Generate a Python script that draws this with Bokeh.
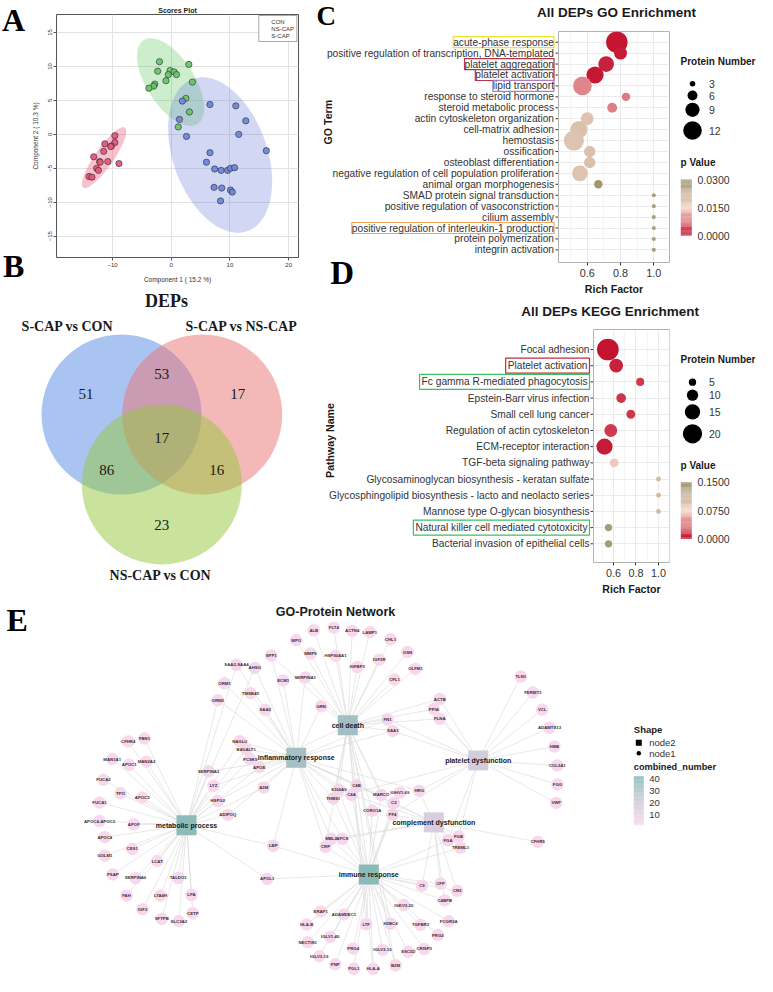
import numpy as np
from bokeh.plotting import figure
from bokeh.models import (Range1d, FixedTicker, LinearColorMapper,
                          ColumnDataSource, Legend, LegendItem)
from bokeh.layouts import row, column
from bokeh.embed import file_html
from bokeh.resources import INLINE
from bokeh.core.properties import value
from bokeh.transform import transform

SANS = "Liberation Sans"
SERIF = "Liberation Serif"
INK = "#1a1a1a"

# ======================= DATA =======================
# --- A: scores plot ---
con_x = [-9.6, -9.6, -11.3, -10.2, -10.3, -11.5, -13.2, -12.2, -12.1, -10.8, -8.9, -12.7, -12.4, -14.0, -13.5]
con_y = [-0.2, -1.2, -1.4, -1.7, -1.8, -2.5, -3.3, -4.0, -4.1, -4.0, -4.3, -5.0, -5.3, -6.2, -6.3]
nscap_x = [-2.0, -2.3, -0.2, 0.5, -0.5, 0.9, 3.0, 3.6, -0.9, -2.8, -3.0, -3.8, 2.5, 3.1, 1.2]
nscap_y = [10.7, 9.3, 9.4, 9.2, 8.8, 8.8, 10.3, 7.7, 7.9, 7.4, 7.1, 6.8, 5.3, 3.3, 1.1]
scap_x = [1.9, 1.4, 2.6, 6.6, 11.0, 12.7, 11.5, 16.2, 6.6, 6.0, 7.4, 8.5, 9.6, 10.1, 10.8, 7.3, 8.6, 10.1, 10.4, 8.4]
scap_y = [4.9, 2.2, -0.3, 4.4, 4.2, 2.0, 0.0, -2.4, -2.7, -4.1, -5.1, -5.3, -5.3, -5.0, -4.9, -7.8, -7.9, -8.2, -8.5, -9.8]
group_names = ["CON", "NS-CAP", "S-CAP"]
# confidence ellipses: centre and the two semi-axis vectors (data units)
ell_cx = [-11.43, -0.11, 8.33]
ell_cy = [-3.43, 7.70, -3.04]
ell_ax = [3.55, 4.60, 4.68]
ell_ay = [4.41, -6.17, -11.20]
ell_bx = [1.29, -3.40, -7.52]
ell_by = [-0.79, -1.92, -2.38]
scores_x_ticks = [-10, 0, 10, 20]
scores_y_ticks = [-15, -10, -5, 0, 5, 10, 15]

# --- B: Venn ---
venn_sets = ["S-CAP vs CON", "S-CAP vs NS-CAP", "NS-CAP vs CON"]
venn_only = [51, 17, 23]
venn_pairs = [53, 86, 16]      # (set0,set1), (set0,set2), (set1,set2)
venn_all = 17

# --- C: GO enrichment ---
go_terms = ["acute-phase response",
            "positive regulation of transcription, DNA-templated",
            "platelet aggregation", "platelet activation", "lipid transport",
            "response to steroid hormone", "steroid metabolic process",
            "actin cytoskeleton organization", "cell-matrix adhesion", "hemostasis",
            "ossification", "osteoblast differentiation",
            "negative regulation of cell population proliferation",
            "animal organ morphogenesis", "SMAD protein signal transduction",
            "positive regulation of vasoconstriction", "cilium assembly",
            "positive regulation of interleukin-1 production",
            "protein polymerization", "integrin activation"]
go_rich = [0.778, 0.80, 0.714, 0.647, 0.571, 0.833, 0.75, 0.60, 0.55, 0.52,
           0.615, 0.615, 0.556, 0.667, 1.0, 1.0, 1.0, 1.0, 1.0, 1.0]
go_count = [14, 8, 10, 11, 12, 5, 6, 8, 11, 13, 7, 7, 10, 5, 2, 2, 2, 2, 2, 2]
go_p = [0.0003, 0.0008, 0.0012, 0.0004, 0.009, 0.008, 0.0085, 0.019, 0.0195, 0.019,
        0.0195, 0.0195, 0.019, 0.030, 0.028, 0.028, 0.028, 0.028, 0.028, 0.028]
go_size_legend = [3, 6, 9, 12]
go_p_ticks = [0.03, 0.015, 0.0]
go_p_tick_labels = ["0.0300", "0.0150", "0.0000"]

# --- D: KEGG enrichment ---
kegg_terms = ["Focal adhesion", "Platelet activation", "Fc gamma R-mediated phagocytosis",
              "Epstein-Barr virus infection", "Small cell lung cancer",
              "Regulation of actin cytoskeleton", "ECM-receptor interaction",
              "TGF-beta signaling pathway",
              "Glycosaminoglycan biosynthesis - keratan sulfate",
              "Glycosphingolipid biosynthesis - lacto and neolacto series",
              "Mannose type O-glycan biosynthesis",
              "Natural killer cell mediated cytotoxicity",
              "Bacterial invasion of epithelial cells"]
kegg_rich = [0.55, 0.624, 0.837, 0.668, 0.754, 0.576, 0.52, 0.606, 1.0, 1.0, 1.0, 0.556, 0.556]
kegg_count = [23, 13, 6, 8, 7, 12, 16, 7, 2, 2, 2, 5, 5]
kegg_p = [0.0003, 0.006, 0.016, 0.014, 0.015, 0.016, 0.004, 0.07, 0.105, 0.105, 0.105, 0.145, 0.145]
kegg_size_legend = [5, 10, 15, 20]
kegg_p_ticks = [0.15, 0.075, 0.0]
kegg_p_tick_labels = ["0.1500", "0.0750", "0.0000"]

rich_ticks = [0.6, 0.8, 1.0]
rich_tick_labels = ["0.6", "0.8", "1.0"]
rich_minor = [0.5, 0.7, 0.9, 1.1]

# --- E: GO-protein network ---
go_nodes = ["cell death", "inflammatory response", "metabolic process",
            "immune response", "platelet dysfunction", "complement dysfunction"]
go_node_x = [347.3, 295.7, 186.0, 368.3, 477.7, 433.3]
go_node_y = [730.0, 764.0, 834.3, 885.7, 766.7, 831.3]

prot_names = ["MPO", "ALB", "FLT4", "ACTN4", "LAMP1", "CHL1", "GSN", "OLFM1", "CFL1", "IGF2R",
              "IGFBP3", "HSP90AA1", "MMP9", "SPP1", "SAA2-SAA4", "AHSG", "ORM1", "ORM2", "TMSB4X", "ECM1",
              "SERPINA1", "SAA2", "GRN", "FN1", "SAA1", "ACTB", "PPIA", "FLNA", "NAGLU", "B4GALT1",
              "PCSK9", "APOE", "A2M", "SERPINA3", "LYZ", "HSPG2", "ADIPOQ", "S100A9", "THBS1", "C4B",
              "C4A", "MARCO", "IGHV1-69", "C2", "HRG", "CORO1A", "PF4",
              "CFHR4", "FBN1", "MAN1A1", "APOC1", "MAN2A2", "FUCA2", "TPI1", "APOC3", "FUCA1", "APOC4-APOC2",
              "APOF", "APOC4", "CES1", "GOLM1", "LCAT", "PSAP", "SERPINA6", "TALDO1", "FAH", "LTA4H",
              "LPA", "IGF2", "SFTPB", "SLC3A2", "CETP", "LBP", "APOL1",
              "MBL2", "APCS", "CRP", "FGA", "FGB", "TREML1", "C9", "CFP", "CR2", "C4BPB",
              "IGKV3-20", "ERAP1", "ADAMDEC1", "HLA-B", "LTF", "H2BC4", "TGFBR3", "FCGR3A", "PRG2", "NECTIN1",
              "IGLV1-40", "PRG4", "IGLV3-10", "SSC5D", "CRISP3", "IGLV3-19", "PNP", "PGL1", "HLA-A", "B2M",
              "TLN1", "FERMT3", "VCL", "ADAMTS13", "HBB", "COL3A1", "FGG", "VWF", "CFHR5"]
prot_x = [295.7, 313.3, 333.3, 351.7, 369.3, 390.0, 407.0, 415.0, 394.0, 378.7,
          356.7, 335.0, 310.0, 270.7, 236.0, 254.3, 224.0, 217.3, 250.0, 282.7,
          304.7, 264.7, 320.7, 387.0, 392.3, 439.3, 433.3, 439.3, 239.3, 245.7,
          249.7, 258.7, 263.3, 208.0, 213.0, 217.3, 227.3, 338.3, 332.7, 356.0,
          351.0, 380.7, 399.3, 393.3, 418.7, 371.7, 392.0,
          127.7, 144.0, 111.7, 128.7, 146.0, 103.0, 120.0, 141.7, 99.0, 99.0,
          133.3, 104.3, 131.7, 104.3, 156.7, 112.3, 135.0, 177.7, 126.0, 160.0,
          191.0, 142.0, 161.3, 178.3, 192.3, 272.7, 266.7,
          330.5, 341.8, 325.0, 447.5, 458.0, 460.0, 421.5, 440.0, 456.7, 444.2,
          403.3, 320.2, 343.5, 306.2, 365.7, 390.0, 420.0, 448.2, 437.3, 307.2,
          329.7, 352.7, 382.0, 407.7, 423.7, 318.7, 334.7, 353.3, 372.7, 395.0,
          520.3, 532.3, 541.7, 549.0, 554.0, 556.7, 557.0, 555.7, 537.3]
prot_y = [641.3, 631.0, 628.3, 631.7, 633.0, 640.3, 653.7, 671.3, 682.3, 661.7,
          669.3, 657.7, 655.3, 657.3, 667.0, 670.3, 686.3, 704.0, 696.7, 683.3,
          680.3, 714.0, 710.3, 724.0, 736.0, 702.7, 713.2, 723.3, 746.7, 755.0,
          765.3, 773.7, 795.0, 778.0, 793.3, 809.0, 823.5, 797.3, 806.3, 793.0,
          802.7, 802.7, 800.3, 811.0, 798.3, 819.3, 823.3,
          747.0, 744.0, 765.3, 771.3, 768.0, 787.0, 801.0, 805.5, 810.7, 830.0,
          833.3, 846.7, 859.0, 866.0, 871.7, 885.7, 889.3, 889.3, 907.7, 907.7,
          907.0, 922.0, 932.0, 934.3, 926.0, 855.7, 890.3,
          848.5, 848.5, 856.7, 850.0, 846.0, 857.8, 897.3, 895.2, 902.7, 912.7,
          917.5, 924.2, 927.3, 937.8, 937.5, 937.0, 938.2, 934.3, 948.8, 956.2,
          950.8, 963.0, 964.3, 966.3, 963.3, 970.8, 979.3, 984.0, 984.0, 980.3,
          679.3, 696.0, 714.0, 732.7, 752.3, 772.0, 791.7, 811.0, 851.7]

go_edges = {
    "metabolic process": ["CFHR4", "FBN1", "MAN1A1", "APOC1", "MAN2A2", "FUCA2", "TPI1", "APOC3", "FUCA1",
                          "APOC4-APOC2", "APOF", "APOC4", "CES1", "GOLM1", "LCAT", "PSAP", "SERPINA6",
                          "TALDO1", "FAH", "LTA4H", "LPA", "IGF2", "SFTPB", "SLC3A2", "CETP", "SERPINA3",
                          "LYZ", "HSPG2", "ADIPOQ", "APOE", "PCSK9", "NAGLU", "B4GALT1", "A2M", "LBP",
                          "APOL1", "ORM2", "AHSG", "SAA2-SAA4"],
    "inflammatory response": ["SAA2-SAA4", "AHSG", "ORM1", "ORM2", "TMSB4X", "SAA2", "SPP1", "ECM1",
                              "SERPINA1", "GRN", "NAGLU", "B4GALT1", "PCSK9", "APOE", "A2M", "SERPINA3",
                              "LYZ", "ADIPOQ", "S100A9", "THBS1", "C4A", "C4B", "CRP", "MBL2", "APCS",
                              "LBP", "SAA1", "FN1", "HRG", "C2", "MARCO", "HSPG2"],
    "cell death": ["MPO", "ALB", "FLT4", "ACTN4", "LAMP1", "CHL1", "GSN", "OLFM1", "CFL1", "IGF2R",
                   "IGFBP3", "HSP90AA1", "MMP9", "SPP1", "SERPINA1", "GRN", "FN1", "SAA1", "ACTB", "PPIA",
                   "FLNA", "S100A9", "THBS1", "CORO1A", "PF4", "C4B", "MARCO", "APOE", "CRP", "LTF",
                   "H2BC4", "B2M", "HLA-A"],
    "platelet dysfunction": ["TLN1", "FERMT3", "VCL", "ADAMTS13", "HBB", "COL3A1", "FGG", "VWF", "ACTB",
                             "PPIA", "FLNA", "FN1", "SAA1", "HRG", "PF4", "FGA", "FGB", "THBS1"],
    "complement dysfunction": ["CFHR5", "FGA", "FGB", "TREML1", "C9", "CFP", "CR2", "C4BPB", "C2", "PF4",
                               "HRG", "C4A", "C4B", "MBL2", "APCS"],
    "immune response": ["ERAP1", "ADAMDEC1", "HLA-B", "LTF", "IGLV1-40", "NECTIN1", "PRG4", "IGLV3-19",
                        "PNP", "PGL1", "HLA-A", "B2M", "IGLV3-10", "SSC5D", "CRISP3", "PRG2", "H2BC4",
                        "TGFBR3", "FCGR3A", "IGKV3-20", "C4BPB", "CR2", "CFP", "C9", "APOL1", "LBP", "CRP",
                        "MBL2", "APCS", "CORO1A", "MARCO", "IGHV1-69", "C2", "PF4", "S100A9", "THBS1",
                        "C4A", "C4B", "TREML1", "FGA"],
}
net_cb_ticks = [40, 30, 20, 10]
shape_legend = ["node2", "node1"]


# ======================= HELPERS =======================
def ramp(stops, n=256):
    rgb = [tuple(int(s[i:i + 2], 16) for i in (1, 3, 5)) for s in stops]
    out = []
    for k in range(n):
        t = k / (n - 1) * (len(rgb) - 1)
        i = min(int(t), len(rgb) - 2)
        f = t - i
        c = [round(rgb[i][j] + (rgb[i + 1][j] - rgb[i][j]) * f) for j in range(3)]
        out.append("#%02x%02x%02x" % tuple(c))
    return out


def txt(p, xs, ys, texts, size, style="normal", font=SANS, color=INK, align="left",
        baseline="middle", angle=0.0, **kw):
    return p.text(x=list(xs), y=list(ys), text=list(texts), text_font=value(font),
                  text_font_size=value(size), text_font_style=style, text_color=color,
                  text_align=align, text_baseline=baseline, angle=angle, **kw)


def letter(p, x, y, ch, size="32px"):
    txt(p, [x], [y], [ch], size, style="bold", font=SERIF, color="#000000")


def blank(w, h, xr, yr):
    p = figure(width=w, height=h, x_range=Range1d(*xr), y_range=Range1d(*yr),
               output_backend="svg", toolbar_location=None, frame_align=False,
               x_axis_location=None, y_axis_location=None, min_border=0)
    p.grid.visible = False
    p.outline_line_color = None
    p.background_fill_color = "white"
    p.border_fill_color = "white"
    return p


# ======================= A: Scores plot =======================
pLetAB = blank(28, 285, (0, 28), (285, 0))
letter(pLetAB, 1.5, 19.5, "A")
letter(pLetAB, 2.5, 265, "B")

pA = figure(width=272, height=285, x_range=Range1d(-19.54, 21.68), y_range=Range1d(-18.13, 17.65),
            output_backend="svg", toolbar_location=None, frame_align=False,
            min_border_left=26, min_border_right=2, min_border_top=14, min_border_bottom=27)
pA.title.text = "Scores Plot"
pA.title.align = "center"
pA.title.text_font = SANS
pA.title.text_font_size = "7px"
pA.title.text_font_style = "bold"
pA.title.text_color = INK
pA.title.standoff = 2
pA.xaxis.ticker = FixedTicker(ticks=scores_x_ticks)
pA.yaxis.ticker = FixedTicker(ticks=scores_y_ticks)
for ax in pA.axis:
    ax.axis_line_color = None
    ax.major_tick_line_color = "#555555"
    ax.major_tick_out = 3
    ax.major_tick_in = 0
    ax.minor_tick_line_color = None
    ax.major_label_text_font = SANS
    ax.major_label_text_font_size = "6px"
    ax.major_label_text_color = "#333333"
    ax.axis_label_text_font = SANS
    ax.axis_label_text_font_size = "6.5px"
    ax.axis_label_text_font_style = "normal"
    ax.axis_label_text_color = "#333333"
pA.xaxis.major_label_standoff = 2
pA.xaxis.axis_label_standoff = 6
pA.yaxis.major_label_standoff = 1
pA.yaxis.axis_label_standoff = 7
pA.yaxis.major_label_orientation = "vertical"
pA.xaxis.axis_label = "Component 1 ( 15.2 %)"
pA.yaxis.axis_label = "Component 2 ( 10.3 %)"
pA.grid.grid_line_color = "#e2e2e2"
pA.outline_line_color = "#555555"
pA.outline_line_width = 1

t = np.linspace(0, 2 * np.pi, 120)
ell_fill = ["#ee5a80", "#66cc66", "#6a7fdc"]
ell_alpha = [0.38, 0.33, 0.30]
for i in range(3):
    ex = ell_cx[i] + ell_ax[i] * np.cos(t) + ell_bx[i] * np.sin(t)
    ey = ell_cy[i] + ell_ay[i] * np.cos(t) + ell_by[i] * np.sin(t)
    pA.patch(ex, ey, fill_color=ell_fill[i], fill_alpha=ell_alpha[i], line_color=None)

pt_fill = ["#e4577a", "#69c46b", "#6f86da"]
for xs, ys, c in zip([con_x, nscap_x, scap_x], [con_y, nscap_y, scap_y], pt_fill):
    pA.scatter(xs, ys, size=6.3, fill_color=c, line_color="#2a2a2a", line_width=0.6, fill_alpha=0.95)

leg_markers = ["square", "circle", "circle"]
leg_r = [pA.scatter(x=[], y=[], marker=m, size=4, fill_color=None, line_color=c, line_width=0.9)
         for m, c in zip(leg_markers, pt_fill)]
legA = Legend(items=[LegendItem(label=g, renderers=[r]) for g, r in zip(group_names, leg_r)],
              location="top_right", label_text_font=SANS, label_text_font_size="6px",
              label_text_color="#333333", label_height=6, glyph_height=7, glyph_width=7,
              spacing=0, padding=2, margin=1, label_standoff=3,
              border_line_color="#555555", border_line_width=0.6, background_fill_alpha=1)
pA.add_layout(legA)

# ======================= B: Venn =======================
pB = blank(300, 315, (0, 300), (600, 285))
VCX, VCY, VSIDE, VR = 161.35, 437.3, 80.7, 80.0
set_ang = np.radians([210, 330, 90])
pair_ang = np.radians([270, 150, 30])
dist_c = VSIDE / np.sqrt(3)
cx = VCX + dist_c * np.cos(set_ang)
cy = VCY + dist_c * np.sin(set_ang)
venn_cols = ["#5589e5", "#e97171", "#93c739"]
for i in range(3):
    pB.circle(x=[cx[i]], y=[cy[i]], radius=VR, fill_color=venn_cols[i], fill_alpha=0.5, line_color=None)
txt(pB, VCX + 87.5 * np.cos(set_ang), VCY + 87.5 * np.sin(set_ang), [str(v) for v in venn_only],
    "15px", font=SERIF, align="center")
txt(pB, VCX + 63.5 * np.cos(pair_ang), VCY + 63.5 * np.sin(pair_ang), [str(v) for v in venn_pairs],
    "15px", font=SERIF, align="center")
txt(pB, [VCX], [VCY], [str(venn_all)], "15px", font=SERIF, align="center")
txt(pB, [166], [300], ["DEPs"], "18px", style="bold", font=SERIF, align="center")
txt(pB, [67, 241, 160], [326, 326, 575], venn_sets, "14px", style="bold", font=SERIF, align="center")

# ======================= C / D: enrichment dot plots =======================
go_pal = ramp(["#c4122f", "#f3d3c7", "#a09873"])
mapC = LinearColorMapper(palette=go_pal, low=0.0, high=0.03)
mapD = LinearColorMapper(palette=go_pal, low=0.0, high=0.15)


def size_go(n):
    return 1.45 * np.asarray(n, dtype=float) + 1.2


def size_kegg(n):
    return 0.8 * np.asarray(n, dtype=float) + 3.3


def dot_panel(terms, rich, count, pval, sizef, mapper, xr, ytop, ppu, frame_h, H, lab_w, plot_w,
              mb_bottom, boxed, pad, text_right, ref_x0):
    n = len(terms)
    pos = [n - i for i in range(n)]
    ybot = ytop - frame_h / ppu
    # label column, same units-per-pixel as the plot frame, same top edge
    lab = blank(lab_w, H, (ref_x0, ref_x0 + lab_w), (ytop - H / ppu, ytop))
    plain = [i for i in range(n) if terms[i] not in boxed]
    txt(lab, [text_right] * len(plain), [pos[i] for i in plain], [terms[i] for i in plain],
        "10.2px", color="#333333", align="right")
    for i in range(n):
        if terms[i] in boxed:
            txt(lab, [text_right], [pos[i]], [terms[i]], "10.2px", color="#333333", align="right",
                border_line_color=boxed[terms[i]], border_line_width=1.2, padding=pad)
    lab.segment(x0=[ref_x0 + lab_w - 3] * n, y0=pos, x1=[ref_x0 + lab_w] * n, y1=pos,
                line_color="#333333", line_width=1)
    # plot
    p = figure(width=plot_w, height=H, x_range=Range1d(*xr), y_range=Range1d(ybot, ytop),
               output_backend="svg", toolbar_location=None, y_axis_location=None, frame_align=False,
               min_border_left=0, min_border_right=8, min_border_top=0, min_border_bottom=mb_bottom)
    src = ColumnDataSource(dict(x=rich, y=pos, s=list(sizef(count)), p=pval))
    p.scatter("x", "y", size="s", source=src, fill_color=transform("p", mapper), line_color=None)
    p.ygrid.ticker = FixedTicker(ticks=pos)
    p.xaxis.ticker = FixedTicker(ticks=rich_ticks, minor_ticks=rich_minor)
    p.xaxis.major_label_overrides = dict(zip(rich_ticks, rich_tick_labels))
    ax = p.xaxis[0]
    ax.axis_line_color = None
    ax.major_tick_line_color = "#333333"
    ax.major_tick_out = 3
    ax.major_tick_in = 0
    ax.minor_tick_line_color = None
    ax.major_label_text_font = SANS
    ax.major_label_text_color = "#333333"
    ax.major_label_text_font_size = "10.8px"
    ax.major_label_standoff = 2
    ax.axis_label = "Rich Factor"
    ax.axis_label_text_font = SANS
    ax.axis_label_text_font_size = "10.6px"
    ax.axis_label_text_font_style = "bold"
    ax.axis_label_text_color = INK
    ax.axis_label_standoff = 3
    p.outline_line_color = "#b3b3b3"
    p.outline_line_width = 1
    p.xgrid.grid_line_color = "#ebebeb"
    p.xgrid.minor_grid_line_color = "#f5f5f5"
    p.ygrid.grid_line_color = "#ebebeb"
    return lab, p


def enrich_legend(H, yr, sizes, sizef, size_y, pn_y, pv_y, bar_top, bar_bot, mapper, ticks, tick_labels):
    p = blank(80, H, (689, 769), yr)
    txt(p, [692], [pn_y], ["Protein Number"], "10px", style="bold")
    p.scatter(x=[704] * len(sizes), y=size_y, size=list(sizef(sizes)), fill_color="black", line_color=None)
    txt(p, [720.5] * len(sizes), size_y, [str(s) for s in sizes], "10.5px", color="#333333")
    txt(p, [692], [pv_y], ["p Value"], "10px", style="bold")
    lo, hi = mapper.low, mapper.high
    vals = np.linspace(lo, hi, 61)
    yb = bar_bot + (vals - lo) / (hi - lo) * (bar_top - bar_bot)
    mid = (vals[:-1] + vals[1:]) / 2
    cs = ColumnDataSource(dict(b=yb[:-1], t=yb[1:], v=mid))
    p.quad(left=692.3, right=703.3, bottom="b", top="t", source=cs,
           fill_color=transform("v", mapper), line_color=None)
    ty = [bar_bot + (v - lo) / (hi - lo) * (bar_top - bar_bot) for v in ticks]
    txt(p, [709] * len(ticks), ty, tick_labels, "10.5px", color="#333333")
    return p


# ---- C block (reference rows 0..298) ----
C_STRIP = 31
stripC = blank(457, C_STRIP, (312, 769), (C_STRIP, 0))
txt(stripC, [628], [12], ["All DEPs GO Enrichment"], "13.5px", style="bold", align="center")
letter(stripC, 328, 15.5, "C", "27px")

C_PPU = 10.93                       # pixels per category step
C_TOP_REF = C_STRIP                 # reference row of frame top
C_YTOP = len(go_terms) + (41.7 - C_TOP_REF) / C_PPU
C_H = 298 - C_STRIP
go_boxed = {"acute-phase response": "#eee02c", "platelet aggregation": "#b8324a",
            "platelet activation": "#b8324a", "lipid transport": "#b27ac4",
            "positive regulation of interleukin-1 production": "#f2a35a"}
labC, pC = dot_panel(go_terms, go_rich, go_count, go_p, size_go, mapC,
                     (0.4276, 1.0943), C_YTOP, C_PPU, C_H - 36, C_H, 258, 119, 36,
                     go_boxed, 0, 565.5, 312)


def c_units(ref_y):
    return C_YTOP - (ref_y - C_TOP_REF) / C_PPU


txt(labC, [339], [c_units(121.7)], ["GO Term"], "10.6px", style="bold", align="center", angle=np.pi / 2)
letter(labC, 341.7, c_units(272), "D", "33px")
pCl = enrich_legend(C_H, (298, C_STRIP), go_size_legend, size_go, [83.3, 95.0, 109.3, 130.0],
                    61, 162.3, 179, 235, mapC, go_p_ticks, go_p_tick_labels)

# ---- D block (reference rows 298..600) ----
stripD = blank(457, 31, (312, 769), (329, 298))
txt(stripD, [621.7], [311], ["All DEPs KEGG Enrichment"], "13.5px", style="bold", align="center")

D_PPU = 16.19
D_TOP_REF = 329
D_YTOP = len(kegg_terms) + (349 - D_TOP_REF) / D_PPU
kegg_boxed = {"Platelet activation": "#c8283c", "Fc gamma R-mediated phagocytosis": "#3cc060",
              "Natural killer cell mediated cytotoxicity": "#3cc060"}
labD, pD = dot_panel(kegg_terms, kegg_rich, kegg_count, kegg_p, size_kegg, mapD,
                     (0.4222, 1.0978), D_YTOP, D_PPU, 233, 271, 293, 84, 38,
                     kegg_boxed, 2, 601, 312)
txt(labD, [341.7], [D_YTOP - (440 - D_TOP_REF) / D_PPU], ["Pathway Name"], "10.6px", style="bold",
    align="center", angle=np.pi / 2)
pDl = enrich_legend(271, (600, 329), kegg_size_legend, size_kegg, [381.7, 394.7, 411.3, 433.3],
                    359, 465, 481.7, 538.3, mapD, kegg_p_ticks, kegg_p_tick_labels)

# ======================= E: network =======================
pE = blank(757, 376, (0, 757), (992, 600))
net_pal = ramp(["#f9d7ec", "#c9c9d8", "#83b9b4"])
mapE = LinearColorMapper(palette=net_pal, low=1.5, high=42.1)

pidx = {n: i for i, n in enumerate(prot_names)}
gidx = {n: i for i, n in enumerate(go_nodes)}
x0, y0, x1, y1 = [], [], [], []
deg_p = [0] * len(prot_names)
deg_g = [0] * len(go_nodes)
for g, plist in go_edges.items():
    for pr in plist:
        x0.append(go_node_x[gidx[g]])
        y0.append(go_node_y[gidx[g]])
        x1.append(prot_x[pidx[pr]])
        y1.append(prot_y[pidx[pr]])
        deg_p[pidx[pr]] += 1
        deg_g[gidx[g]] += 1
pE.segment(x0=x0, y0=y0, x1=x1, y1=y1, line_color="#d9d9d9", line_width=0.6)

psrc = ColumnDataSource(dict(x=prot_x, y=prot_y, n=prot_names, d=deg_p))
pE.scatter("x", "y", size=12.5, source=psrc, fill_color=transform("d", mapE), line_color=None)
pE.text("x", "y", "n", source=psrc, text_font=value(SANS), text_font_size=value("4.3px"),
        text_font_style="bold", text_color="#333333", text_align="center", text_baseline="middle")
gsrc = ColumnDataSource(dict(x=go_node_x, y=go_node_y, n=go_nodes, d=deg_g))
pE.scatter("x", "y", size=20, marker="square", source=gsrc, fill_color=transform("d", mapE), line_color=None)
pE.text("x", "y", "n", source=gsrc, text_font=value(SANS), text_font_size=value("7px"),
        text_font_style="bold", text_color=INK, text_align="center", text_baseline="middle")

txt(pE, [335], [612], ["GO-Protein Network"], "12.5px", style="bold", align="center")
letter(pE, 6, 620, "E")

# network legend
txt(pE, [633.3], [734], ["Shape"], "9.5px", style="bold")
pE.scatter(x=[638.3], y=[748.3], size=6, marker="square", fill_color="black", line_color=None)
pE.scatter(x=[638.3], y=[759.3], size=4.5, marker="circle", fill_color="black", line_color=None)
txt(pE, [648.7, 648.7], [748.3, 759.3], shape_legend, "9.5px", color="#333333")
txt(pE, [633.3], [773.7], ["combined_number"], "9.2px", style="bold")
cb_top, cb_bot = 783.3, 834.3
vals = np.linspace(mapE.low, mapE.high, 61)
yb = cb_bot - (vals - mapE.low) / (mapE.high - mapE.low) * (cb_bot - cb_top)
cbs = ColumnDataSource(dict(b=yb[:-1], t=yb[1:], v=(vals[:-1] + vals[1:]) / 2))
pE.quad(left=633.3, right=643.3, bottom="b", top="t", source=cbs,
        fill_color=transform("v", mapE), line_color=None)
ty = [cb_bot - (v - mapE.low) / (mapE.high - mapE.low) * (cb_bot - cb_top) for v in net_cb_ticks]
txt(pE, [648.7] * len(net_cb_ticks), ty, [str(v) for v in net_cb_ticks], "9.5px", color="#333333")

# ======================= LAYOUT =======================
left_col = column(row(pLetAB, pA), pB)
right_col = column(stripC, row(labC, pC, pCl), stripD, row(labD, pD, pDl))
layout = column(row(left_col, right_col), pE)
open("out.html", "w").write(file_html(layout, INLINE))
